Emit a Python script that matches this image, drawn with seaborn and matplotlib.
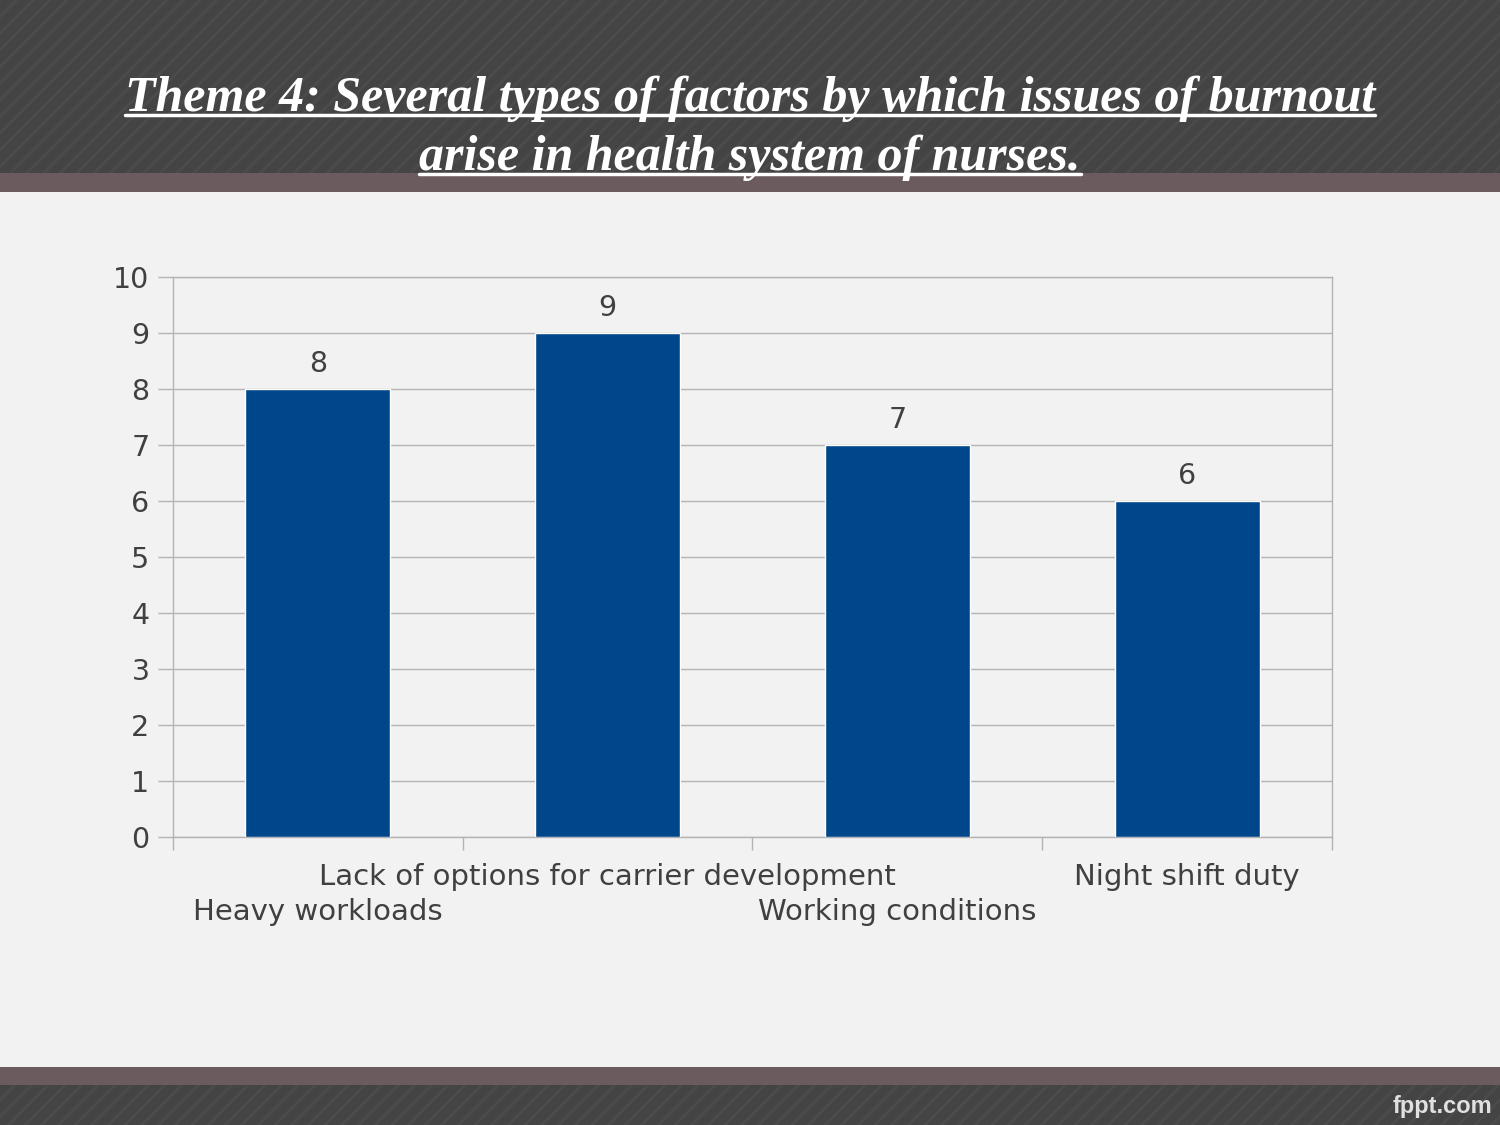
import matplotlib
matplotlib.use("Agg")
import matplotlib.pyplot as plt
from matplotlib.patches import Rectangle
from matplotlib.ticker import FixedLocator
from matplotlib.transforms import offset_copy
import pandas as pd
import seaborn as sns

factors = ["Heavy workloads", "Lack of options for carrier development",
           "Working conditions", "Night shift duty"]
counts = [8, 9, 7, 6]
title_lines = ["Theme 4: Several types of factors by which issues of burnout",
               "arise in health system of nurses."]

df = pd.DataFrame({"factor": factors, "count": counts})

sns.set_theme(style="white")
plt.rcParams["font.family"] = ["DejaVu Sans"]
plt.rcParams["hatch.linewidth"] = 2.0

BG = "#f2f2f2"
DARK = "#444444"
MAUVE = "#6b5a5e"
GRID = "#b3b3b3"
TXT = "#404040"
FS = 20.5

fig = plt.figure(figsize=(15, 11.25), dpi=100)
fig.patch.set_facecolor(BG)

# header / footer bands
H = 1125.0
def band(y0, y1, color, hatch=None):
    r = Rectangle((0, 1 - y1 / H), 1, (y1 - y0) / H, transform=fig.transFigure,
                  facecolor=color, edgecolor="#4b4b4b" if hatch else color,
                  hatch=hatch, lw=0, zorder=0)
    fig.add_artist(r)

band(0, 173, DARK, "//")
band(173, 192, MAUVE)
band(1067, 1085, MAUVE)
band(1085, 1125, DARK, "//")

ax = fig.add_axes([173 / 1500, 1 - 837 / H, (1332 - 173) / 1500, (837 - 277) / H])
ax.set_facecolor(BG)

sns.barplot(data=df, x="factor", y="count", color="#00468b", width=0.5,
            saturation=1, ax=ax, zorder=3)

for i, v in enumerate(counts):
    ax.text(i, v + 0.2, str(v), ha="center", va="bottom", fontsize=FS, color=TXT)

ax.set_ylim(0, 10)
ax.set_xlim(-0.5, len(factors) - 0.5)
ax.set_yticks(range(0, 11))
ax.yaxis.grid(True, color=GRID, lw=1)
ax.set_axisbelow(True)
ax.tick_params(axis="y", left=True, length=11, width=1, color=GRID,
               labelsize=FS, labelcolor=TXT, pad=6)

# tick marks between categories, staggered category labels drawn as texts
ax.set_xticks(range(len(factors)))
ax.set_xticklabels([])
ax.tick_params(axis="x", which="major", bottom=False)
ax.xaxis.set_minor_locator(FixedLocator([i - 0.5 for i in range(len(factors) + 1)]))
ax.tick_params(axis="x", which="minor", bottom=True, length=9, width=1, color=GRID)
for i, f in enumerate(factors):
    dy = -44 if i % 2 == 0 else -19
    tr = offset_copy(ax.get_xaxis_transform(), fig=fig, x=0, y=dy, units="points")
    ax.text(i, 0, f, transform=tr, ha="center", va="top", fontsize=21, color=TXT)

for s in ax.spines.values():
    s.set_visible(True)
    s.set_color(GRID)
    s.set_linewidth(1)
ax.set_xlabel("")
ax.set_ylabel("")

# title with underline
ys = [1 - 99 / H, 1 - 158 / H]
renderer = fig.canvas.get_renderer()
for line, y in zip(title_lines, ys):
    t = fig.text(0.5, y, line, ha="center", va="center", color="white",
                 fontsize=36, fontweight="bold", fontstyle="italic",
                 family=["Liberation Serif", "DejaVu Serif"])
    bb = t.get_window_extent(renderer).transformed(fig.transFigure.inverted())
    fig.add_artist(plt.Line2D([bb.x0, bb.x1], [bb.y0 + 0.006, bb.y0 + 0.006],
                              transform=fig.transFigure, color="white", lw=2.5))

fig.text(1 - 8 / 1500, 1 - 1106 / H, "fppt.com", ha="right", va="center",
         color="#e0e0e0", fontsize=17, fontweight="bold",
         family=["Liberation Sans", "DejaVu Sans"])

fig.savefig("out.png", dpi=100, facecolor=fig.get_facecolor())
